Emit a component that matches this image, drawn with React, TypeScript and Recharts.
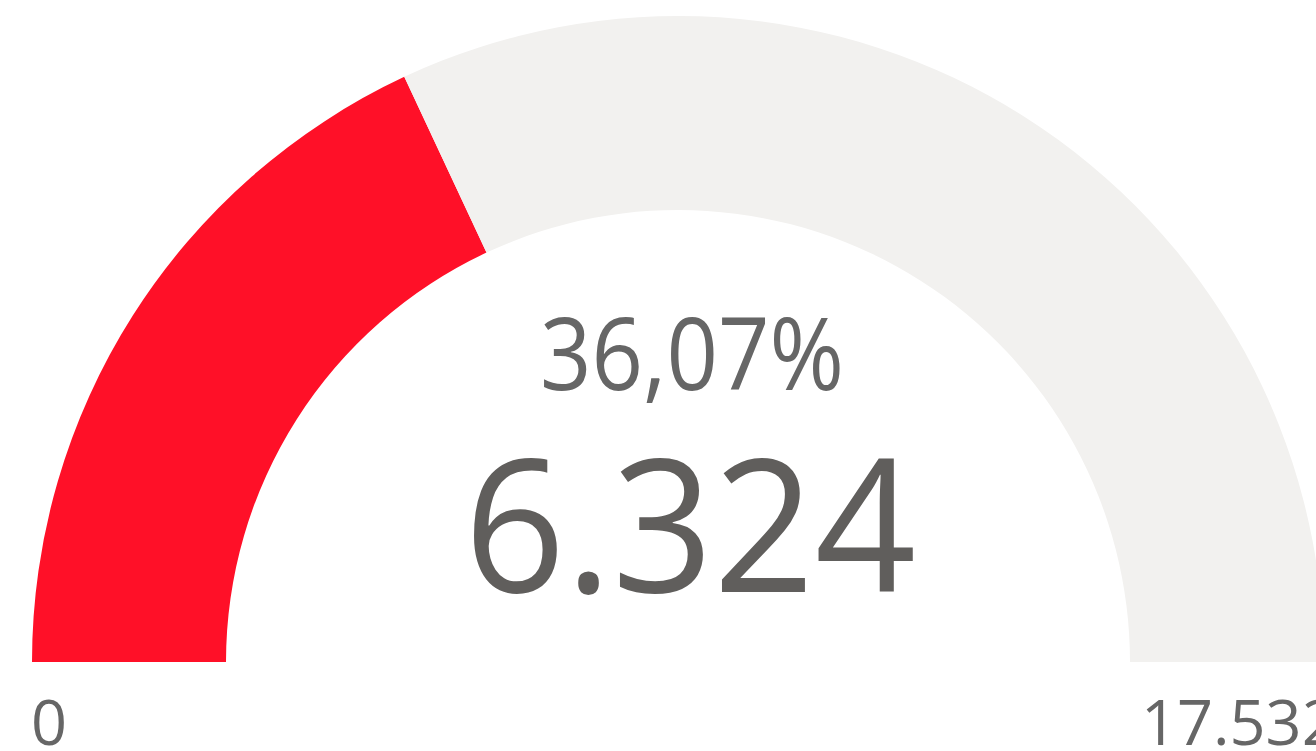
import { Cell, Pie, PieChart } from "recharts";

const GAUGE_MIN = 0;
const GAUGE_MAX = 17532;
const GAUGE_VALUE = 6324;

const SEGMENT_NAMES = ["Valor", "Restante"];
const SEGMENT_VALUES = [GAUGE_VALUE - GAUGE_MIN, GAUGE_MAX - GAUGE_VALUE];
const SEGMENT_COLORS = ["#FF1028", "#F2F1EF"];

// Segoe UI isn't installed, Open Sans is a bit wider so the big numbers get squeezed
const FONT = "'Open Sans', 'Noto Sans', sans-serif";

const fmtNumber = (n: number) => n.toLocaleString("de-DE");
const fmtPercent = (n: number) =>
  (n * 100).toLocaleString("de-DE", { minimumFractionDigits: 2, maximumFractionDigits: 2 }) + "%";

export default function App() {
  const data = SEGMENT_NAMES.map((name, i) => ({ name, value: SEGMENT_VALUES[i] }));
  const pct = (GAUGE_VALUE - GAUGE_MIN) / (GAUGE_MAX - GAUGE_MIN);

  return (
    <div style={{ position: "absolute", left: 0, top: 0, width: 1316, height: 751, background: "#fff" }}>
      <PieChart width={1316} height={751} margin={{ top: 0, right: 0, bottom: 0, left: 0 }}>
        <Pie
          data={data}
          dataKey="value"
          nameKey="name"
          cx={678}
          cy={662}
          innerRadius={452}
          outerRadius={646}
          startAngle={180}
          endAngle={0}
          stroke="none"
          isAnimationActive={false}
        >
          {data.map((d, i) => (
            <Cell key={d.name} fill={SEGMENT_COLORS[i]} />
          ))}
        </Pie>
        <text
          x={692}
          y={390}
          textAnchor="middle"
          fill="#666666"
          fontFamily={FONT}
          fontSize={100}
          textLength={304}
          lengthAdjust="spacingAndGlyphs"
        >
          {fmtPercent(pct)}
        </text>
        <text
          x={690}
          y={592}
          textAnchor="middle"
          fill="#605E5C"
          fontFamily={FONT}
          fontSize={186}
          textLength={452}
          lengthAdjust="spacingAndGlyphs"
        >
          {fmtNumber(GAUGE_VALUE)}
        </text>
        <text x={31} y={745} textAnchor="start" fill="#666666" fontFamily={FONT} fontSize={63}>
          {fmtNumber(GAUGE_MIN)}
        </text>
        <text x={1141} y={745} textAnchor="start" fill="#666666" fontFamily={FONT} fontSize={63}>
          {fmtNumber(GAUGE_MAX)}
        </text>
      </PieChart>
    </div>
  );
}
